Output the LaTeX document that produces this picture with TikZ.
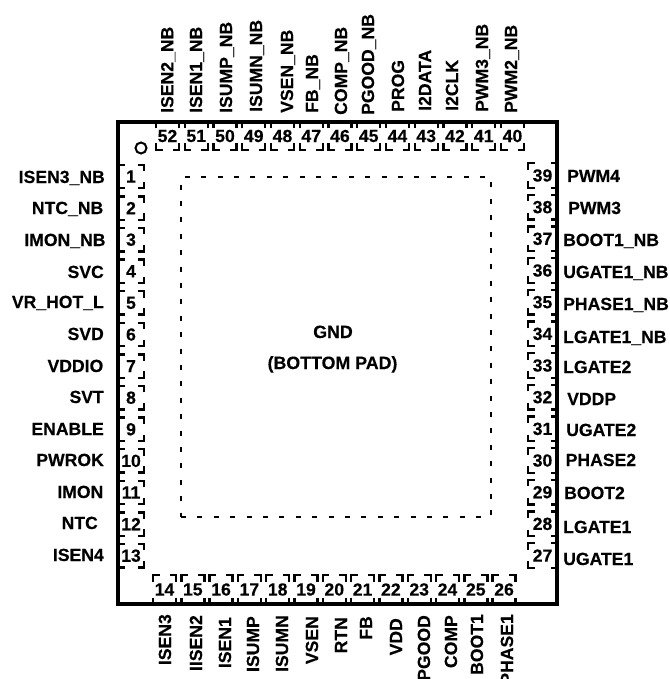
\documentclass[tikz,border=0pt]{standalone}
\usepackage{fontspec}
\setmainfont[BoldFeatures={FakeBold=0.3}]{Liberation Sans}
\tikzset{
  pinlabel/.style={font=\fontsize{17.6}{20}\selectfont\bfseries,inner sep=0pt,text=black},
  leftlabel/.style={pinlabel,anchor=base east},
  rightlabel/.style={pinlabel,anchor=base west},
  toplabel/.style={pinlabel,anchor=base west,rotate=90},
  botlabel/.style={pinlabel,anchor=base east,rotate=90},
  padpath/.style={draw,line width=2.4pt},
  padbox/.style={font=\fontsize{17.6}{20}\selectfont\bfseries,inner sep=0pt,outer sep=0pt,text=black,
    append after command={
      \pgfextra{\let\padname\tikzlastnode}
      (\padname.north west)++(0,6.5)--(\padname.north west)--++(6.5,0)
      (\padname.north east)++(0,6.5)--(\padname.north east)--++(-6.5,0)
      (\padname.south west)++(0,-6.5)--(\padname.south west)--++(6.5,0)
      (\padname.south east)++(0,-6.5)--(\padname.south east)--++(-6.5,0)
    }},
  leftpad/.style={padbox,minimum width=26pt,minimum height=23.5pt},
  rightpad/.style={padbox,minimum width=29pt,minimum height=24.5pt},
  toppad/.style={padbox,minimum width=23pt,minimum height=28pt},
  botpad/.style={padbox,minimum width=23pt,minimum height=29pt},
  package/.style={draw,line width=3.2pt,minimum width=439pt,minimum height=482pt,inner sep=0pt},
  groundpad/.style={draw,line width=2.6pt,dash pattern=on 5pt off 11.4pt,minimum width=310pt,minimum height=340pt,inner sep=0pt},
  centertext/.style={font=\fontsize{17.8}{20}\selectfont\bfseries,inner sep=0pt,anchor=base,text=black},
  pinone/.style={draw,circle,line width=2pt,minimum size=11pt,inner sep=0pt}
}
\begin{document}
\begin{tikzpicture}[x=1pt,y=-1pt]
\useasboundingbox (0,0) rectangle (669,679);
\node[package] (chip) at (337.5,363) {};
\node[groundpad] (gnd) at (336,347) {};
\node[pinone] (dot) at (141,148) {};
\node[centertext] (gndt) at (333,338) {GND};
\node[centertext] (gndb) at (332.5,369) {(BOTTOM PAD)};
% left pads
\foreach \n [evaluate=\n as \yy using {176.5+31.6*(\n-1)}] in {1,...,13}
  \path[padpath] node[leftpad] (pad\n) at (131,\yy) {\n};
% right pads
\foreach \n [evaluate=\n as \yy using {175.5+31.67*(39-\n)}] in {27,...,39}
  \path[padpath] node[rightpad] (pad\n) at (542.5,\yy) {\n};
% top pads
\foreach \n [evaluate=\n as \xx using {167.5+28.75*(52-\n)}] in {40,...,52}
  \path[padpath] node[toppad] (pad\n) at (\xx,136) {\n};
% bottom pads
\foreach \n [evaluate=\n as \xx using {164.5+28.3*(\n-14)}] in {14,...,26}
  \path[padpath] node[botpad] (pad\n) at (\xx,589.5) {\n};
% left labels
\foreach \t/\x/\y/\k in {ISEN3\_NB/105/183/l1,NTC\_NB/103.5/214/l2,IMON\_NB/105.7/246/l3,SVC/104/278/l4,VR\_HOT\_L/104/308/l5,SVD/104/340/l6,VDDIO/103.5/372/l7,SVT/104/403/l8,ENABLE/104/435/l9,PWROK/104/466/l10,IMON/103.5/498/l11,NTC/98/529/l12,ISEN4/104/561/l13}
  \node[leftlabel] (\k) at (\x,\y) {\t};
% right labels
\foreach \t/\x/\y/\k in {PWM4/567/182/r39,PWM3/568/214/r38,BOOT1\_NB/563/246/r37,UGATE1\_NB/563/278/r36,PHASE1\_NB/563/310/r35,LGATE1\_NB/563/343/r34,LGATE2/563/373/r33,VDDP/567/405/r32,UGATE2/566/436/r31,PHASE2/565.5/466/r30,BOOT2/564/499/r29,LGATE1/563/533/r28,UGATE1/563/565/r27}
  \node[rightlabel] (\k) at (\x,\y) {\t};
% top labels
\foreach \t/\x/\y/\k in {ISEN2\_NB/173.3/113/t52,ISEN1\_NB/202/113/t51,ISUMP\_NB/232/113/t50,ISUMN\_NB/262/112/t49,VSEN\_NB/293/113/t48,FB\_NB/318/113/t47,COMP\_NB/347/115/t46,PGOOD\_NB/374/115/t45,PROG/404/112/t44,I2DATA/431/111/t43,I2CLK/458/111/t42,PWM3\_NB/488/112/t41,PWM2\_NB/517/113/t40}
  \node[toplabel] (\k) at (\x,\y) {\t};
% bottom labels
\foreach \t/\x/\y/\k in {ISEN3/171/614/b14,IISEN2/202/615/b15,ISEN1/231/617/b16,ISUMP/259/616/b17,ISUMN/288/615/b18,VSEN/318/616/b19,RTN/347/617/b20,FB/372/616/b21,VDD/402/618/b22,PGOOD/430/615/b23,COMP/457/615/b24,BOOT1/483/614/b25,PHASE1/513/614/b26}
  \node[botlabel] (\k) at (\x,\y) {\t};
\end{tikzpicture}
\end{document}
